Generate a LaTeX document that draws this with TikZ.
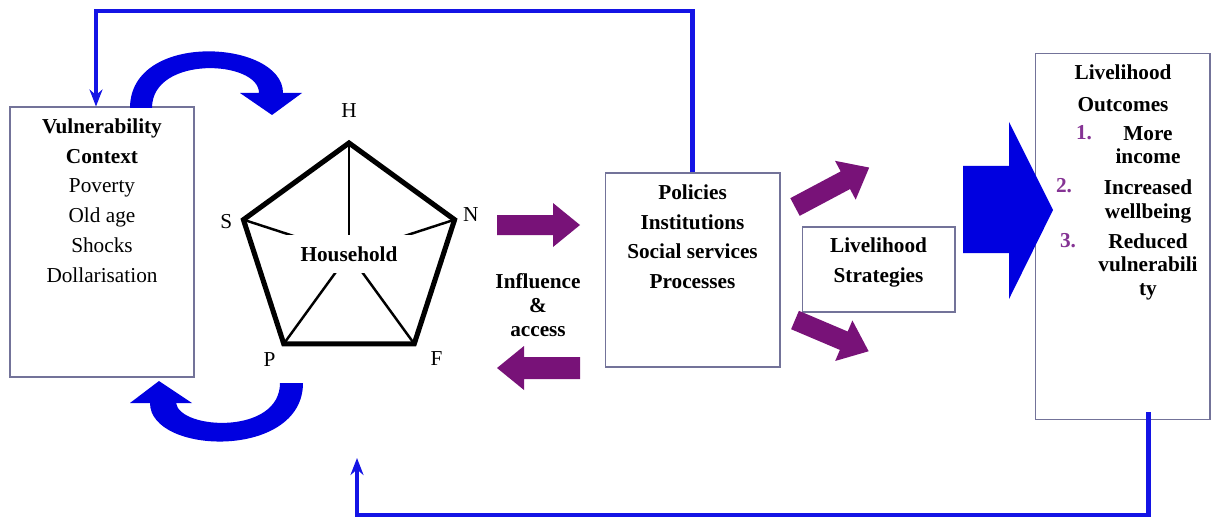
\documentclass[tikz,border=0pt]{standalone}
\usepackage{fontspec}
\setmainfont{Liberation Serif}
\usepackage{tikz,xcolor}
\usetikzlibrary{calc,arrows.meta}
\definecolor{linkblue}{rgb}{0.08, 0.08, 0.9}
\definecolor{flowblue}{rgb}{0.0, 0.0, 0.88}
\definecolor{accesspurple}{rgb}{0.47, 0.07, 0.47}
\definecolor{numpurple}{rgb}{0.52, 0.2, 0.58}
\definecolor{boxline}{rgb}{0.45, 0.45, 0.6}
\newcommand{\fatarrow}[5]{\fill[accesspurple, shift={(#1,#2)}, rotate=#3] (0,-#5) -- ({#4-27},-#5) -- ({#4-27},-22) -- (#4,0) -- ({#4-27},22) -- ({#4-27},#5) -- (0,#5) -- cycle;}

\begin{document}
\begin{tikzpicture}[x=0.02cm, y=-0.02cm,
	framebox/.style={draw=boxline, fill=white, line width=0.6pt},
	txt/.style={align=center, inner sep=0pt, font=\fontsize{12.1}{16.9}\selectfont},
	btxt/.style={txt, font=\fontsize{12.1}{16.9}\selectfont\bfseries},
	blockblue/.style={fill=flowblue},
	feedback/.style={linkblue, line width=2.5pt, -{Stealth[length=0.34cm, width=0.26cm]}}]
	\useasboundingbox (0,0) rectangle (1212,520);
	
	\node[framebox, minimum width=3.68cm, minimum height=5.4cm] (vuln) at (102,242) {};
	\node[txt, anchor=north] (vulntext) at (102,118.5) {\textbf{Vulnerability}\\\textbf{Context}\\Poverty\\Old age\\Shocks\\Dollarisation};
	
	\node[framebox, minimum width=3.5cm, minimum height=3.88cm] (policies) at (692.5,270) {};
	\node[btxt, anchor=north] (policytext) at (692.5,184.5) {Policies\\Institutions\\Social services\\Processes};
	
	\node[framebox, minimum width=3.06cm, minimum height=1.7cm] (strategies) at (878.5,269.5) {};
	\node[btxt, anchor=north] (strategytext) at (878.5,237.5) {Livelihood\\Strategies};
	
	\node[framebox, minimum width=3.5cm, minimum height=7.34cm] (outcomes) at (1122.5,236.5) {};
	\node[btxt, anchor=north, font=\fontsize{12.1}{18}\selectfont\bfseries] (outtitle) at (1123,64.5) {Livelihood\\Outcomes};
	\node[btxt, anchor=north, font=\fontsize{12.1}{13}\selectfont\bfseries] (out1) at (1148,126.5) {More\\income};
	\node[btxt, anchor=north, font=\fontsize{12.1}{13.5}\selectfont\bfseries] (out2) at (1148,179.5) {Increased\\wellbeing};
	\node[btxt, anchor=north, font=\fontsize{12.1}{13.3}\selectfont\bfseries] (out3) at (1148,233.5) {Reduced\\vulnerabili\\ty};
	\node[btxt, numpurple, anchor=base] (num1) at (1084,140) {1.};
	\node[btxt, numpurple, anchor=base] (num2) at (1064,193) {2.};
	\node[btxt, numpurple, anchor=base] (num3) at (1068,247) {3.};
	
	\fill[blockblue] (963,166) -- (1009,166) -- (1009,122) -- (1053,210) -- (1009,299) -- (1009,253) -- (963,253) -- cycle;
	
	% asset pentagon
	\coordinate (hub) at (349,254);
	\foreach \v/\ang/\rad in {H/-90/143, N/-18/128, F/50/136, P/127/132, S/195/127} {
		\node[txt] (lab\v) at ($(hub)+(\ang:\rad)$) {\v};
	}
	\foreach \v/\ang in {H/-90, N/-18, F/54, P/126, S/198} {
		\coordinate (\v) at ($(hub)+(\ang:111)$);
		\draw[line width=1.4pt] (hub) -- (\v);
	}
	\node[btxt, fill=white, minimum width=2.6cm, minimum height=0.76cm] (household) at (hub) {Household};
	\draw[line width=2.9pt, line join=miter] (H) -- (N) -- (F) -- (P) -- (S) -- cycle;
	
	\fatarrow{497}{225}{0}{83}{10}
	\fatarrow{580}{368}{180}{83}{11}
	\fatarrow{795}{207}{28}{84}{10}
	\fatarrow{795}{320}{-23}{80}{10}
	\node[btxt, font=\fontsize{12.1}{13.6}\selectfont\bfseries, anchor=north] (access) at (538,273) {Influence\\\&\\access};
	
	\fill[blockblue] (130,108) .. controls (130,30) and (283,40) .. (283,93) -- (302,93) -- (272,115) -- (240,93) -- (259,93) .. controls (259,60) and (152,55) .. (152,108) -- cycle;
	\fill[blockblue] (303,383) .. controls (303,460) and (150,455) .. (150,403) -- (130,403) -- (159,381) -- (192,403) -- (176,403) .. controls (180,430) and (280,435) .. (280,383) -- cycle;
	
	\coordinate (topleft) at (96,11);
	\draw[feedback] (policies.north) |- (topleft) -- (topleft |- vuln.north);
	\coordinate (bottomleft) at (357,515);
	\coordinate (hhin) at (357,458);
	\draw[feedback] ($(outcomes.south)+(26,-8)$) |- (bottomleft) -- (hhin);
\end{tikzpicture}
\end{document}
